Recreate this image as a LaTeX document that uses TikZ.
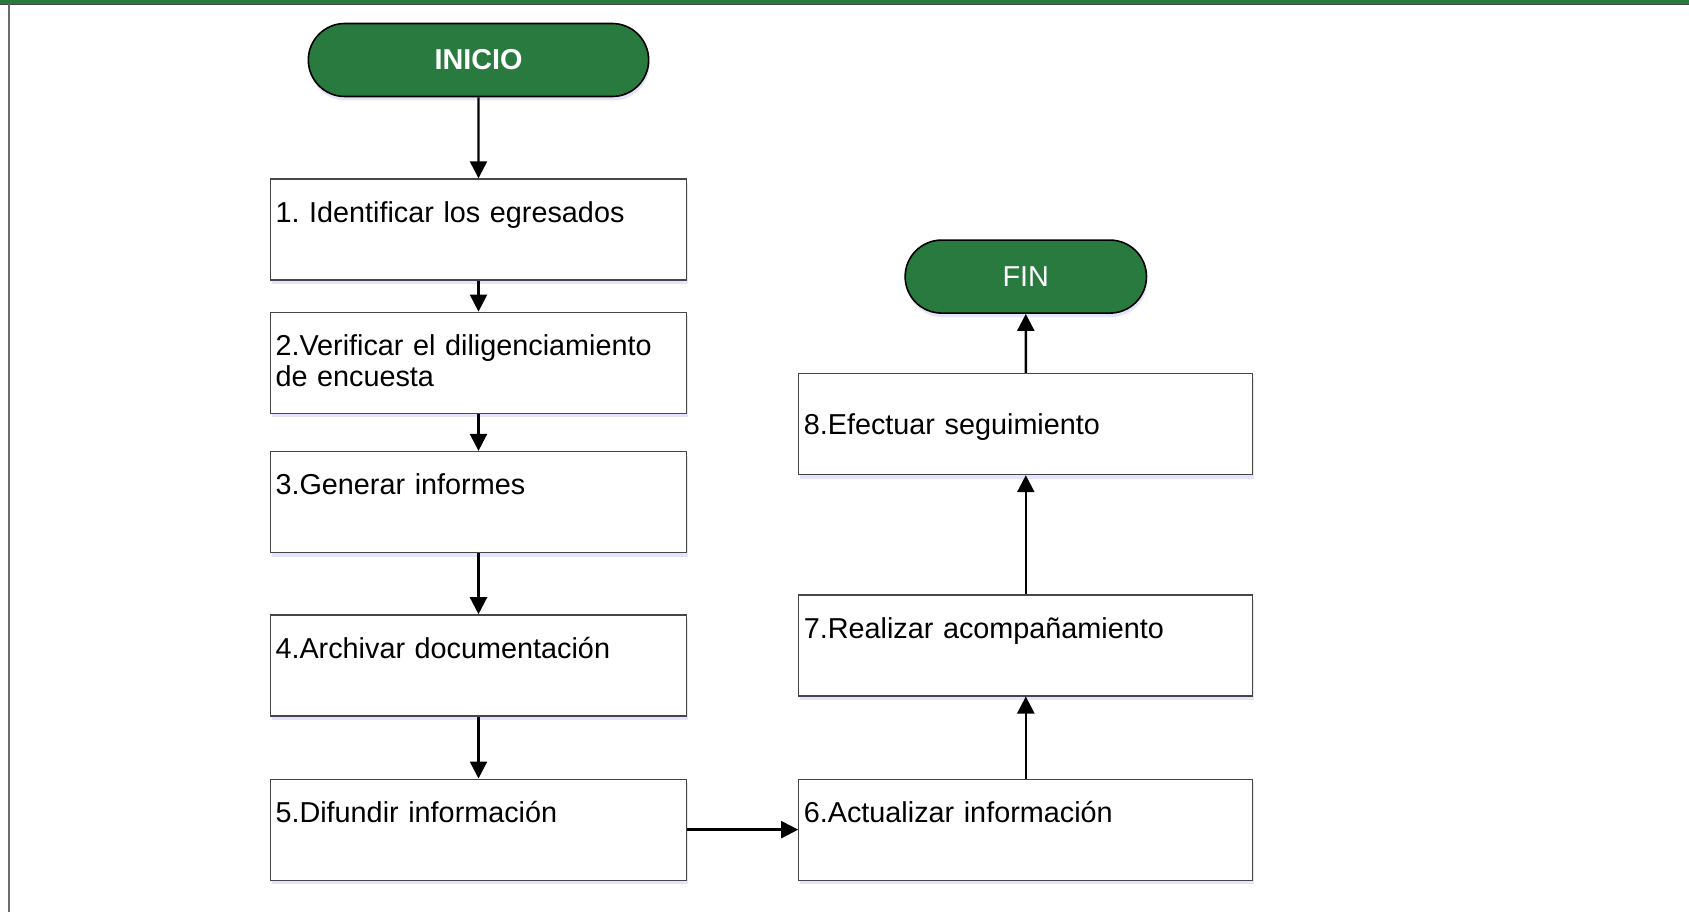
\documentclass[tikz,border=0pt]{standalone}
\usepackage{fontspec}
\setmainfont{Liberation Sans}
\usetikzlibrary{arrows.meta,positioning,shapes.misc,shadows}

\definecolor{verde}{RGB}{40,122,62}
\definecolor{borde}{RGB}{70,70,70}

\begin{document}
\frenchspacing
\begin{tikzpicture}[x=1pt,y=1pt,
        font=\fontsize{28.8}{31}\selectfont,
        terminal/.style={rounded rectangle, draw=black, line width=1.6pt, fill=verde,
            text=white, minimum height=73pt,
            drop shadow={fill=blue!30!white, opacity=0.35, shadow xshift=1pt, shadow yshift=-4pt}},
        paso/.style={rectangle, draw=borde, line width=1.3pt, fill=white, align=left,
            inner xsep=5pt, minimum height=101pt, text depth=35.5pt,
            drop shadow={fill=blue!30!white, opacity=0.35, shadow xshift=1pt, shadow yshift=-4pt}},
        izq/.style={paso, text width=406pt},
        der/.style={paso, text width=444pt},
        flecha/.style={-{Triangle[width=17pt,length=17pt]}, line width=2.4pt}]
        \useasboundingbox (0,0) rectangle (1689,-912);
        % marco
        \fill[verde] (0,0) rectangle (1689,-4.5);
        \draw[borde, line width=1pt] (0,-4.5) -- (1689,-4.5);
        \draw[borde!80, line width=2pt] (9,-4.5) -- (9,-912);

        \node (inicio) [terminal, minimum width=347pt] at (478.5,-60) {\bfseries INICIO};
        \node (p1) [izq, below=81pt of inicio] {1. Identificar los egresados\\\mbox{}};
        \node (p2) [izq, below=31pt of p1] {2.Verificar el diligenciamiento\\de encuesta};
        \node (p3) [izq, below=37pt of p2] {3.Generar informes\\\mbox{}};
        \node (p4) [izq, below=61pt of p3] {4.Archivar documentación\\\mbox{}};
        \node (p5) [izq, below=62pt of p4] {5.Difundir información\\\mbox{}};
        \node (p6) [der, right=111pt of p5] {6.Actualizar información\\\mbox{}};
        \node (p7) [der, above=82pt of p6] {7.Realizar acompañamiento\\\mbox{}};
        \node (p8) [der, text depth=0pt, above=119pt of p7] {8.Efectuar seguimiento};
        \node (fin) [terminal, minimum width=248pt, above=59pt of p8] {FIN};

        \draw[flecha] (inicio) -- (p1);
        \draw[flecha] (p1) -- (p2);
        \draw[flecha] (p2) -- (p3);
        \draw[flecha] (p3) -- (p4);
        \draw[flecha] (p4) -- (p5);
        \draw[flecha] (p5) -- (p6);
        \draw[flecha] (p6) -- (p7);
        \draw[flecha] (p7) -- (p8);
        \draw[flecha] (p8) -- (fin);
    \end{tikzpicture}
\end{document}
